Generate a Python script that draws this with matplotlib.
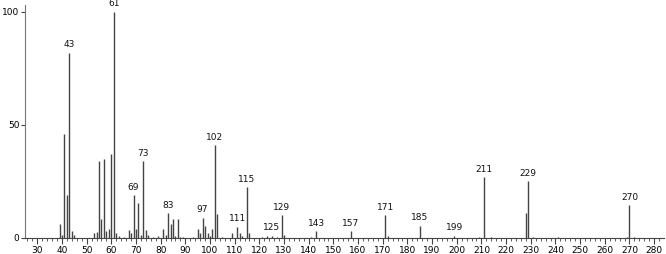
import matplotlib.pyplot as plt

mz = [39, 40, 41, 42, 43, 44, 45, 53, 54, 55, 56, 57, 58, 59, 60, 61, 62, 63, 65,
      67, 68, 69, 70, 71, 72, 73, 74, 75, 77, 79, 81, 82, 83, 84, 85, 86, 87, 88, 89,
      93, 95, 96, 97, 98, 99, 100, 101, 102, 103, 105, 109, 111, 112, 113, 115, 116,
      121, 123, 125, 127, 129, 130, 141, 143, 157, 171, 172, 185, 199, 209, 211, 214,
      228, 229, 231, 241, 269, 270, 272]
intensity = [6, 1.5, 46, 19, 82, 3, 1.5, 2, 2.5, 34, 8.5, 35, 3, 4, 37, 100, 2, 1, 0.5,
             3.5, 2, 19, 4, 15.5, 1.5, 34, 3.5, 1.5, 0.5, 1, 4, 1.5, 11, 6, 8.5, 1, 8.5, 0.5, 0.5,
             0.5, 4, 2, 9, 5.5, 2, 1, 4, 41, 10.5, 0.5, 2, 5, 2, 1, 22.5, 2,
             0.5, 1, 1, 0.5, 10, 1.5, 0.5, 3, 3, 10, 1, 5.5, 1, 0.5, 27, 0.5,
             11, 25, 0.5, 0.5, 0.5, 14.5, 0.5]
labeled = [43, 61, 69, 73, 83, 97, 102, 111, 115, 125, 129, 143, 157, 171, 185, 199,
           211, 229, 270]

fig = plt.figure(figsize=(6.66, 2.54), dpi=100)
ax = fig.add_axes([0.0375, 0.063, 0.9595, 0.917])

ax.vlines(mz, 0, intensity, colors='#444444', linewidth=1.0)
for m, h in zip(mz, intensity):
    if m in labeled:
        ax.text(m, h + 1.5, str(m), ha='center', va='bottom', fontsize=6.5, color='#111111')

ax.set_xlim(25, 284)
ax.set_ylim(0, 103)
ax.set_xticks(range(30, 281, 10))
ax.set_xticks(range(26, 284, 2), minor=True)
ax.set_yticks([0, 50, 100])
ax.tick_params(axis='x', which='major', length=4, width=0.8, labelsize=6.5, pad=2, color='#444444')
ax.tick_params(axis='x', which='minor', length=2, width=0.6, color='#444444')
ax.tick_params(axis='y', length=3, width=0.8, labelsize=6.5, pad=1, color='#444444')
for s in ['top', 'right']:
    ax.spines[s].set_visible(False)
ax.spines['left'].set_color('#777777')
ax.spines['bottom'].set_color('#444444')

fig.savefig('out.png', dpi=100)
